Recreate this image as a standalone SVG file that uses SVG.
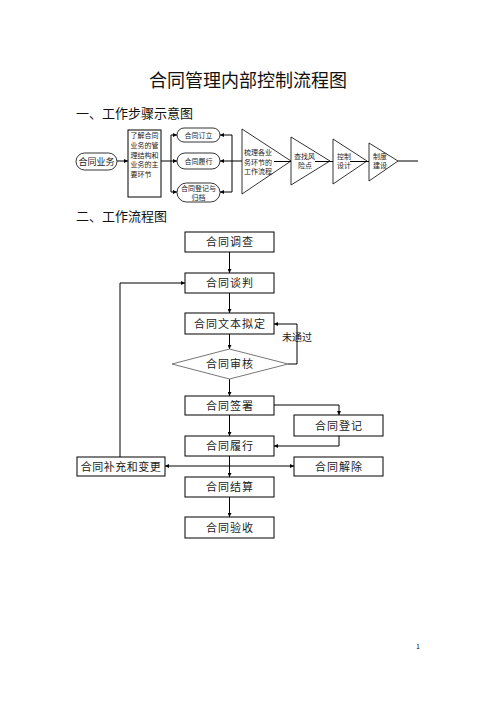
<svg xmlns="http://www.w3.org/2000/svg" width="496" height="702" viewBox="0 0 496 702">
<defs>
<marker id="ah" viewBox="0 0 10 10" refX="10" refY="5" markerWidth="4" markerHeight="4" orient="auto" markerUnits="userSpaceOnUse">
<path d="M0,0 L10,5 L0,10 z" fill="#000"/>
</marker>
</defs>
<style>
text{font-family:"Noto Sans CJK SC","Noto Sans",sans-serif;fill:#222}
.box{fill:#fff;stroke:#000;stroke-width:1}
.dia{fill:#fff;stroke:#777;stroke-width:1}
.pill{fill:#fff;stroke:#000;stroke-width:0.8}
.tri{fill:#fff;stroke:#000;stroke-width:0.8}
.ln{fill:none;stroke:#000;stroke-width:1}
.arr{fill:none;stroke:#000;stroke-width:1;marker-end:url(#ah)}
.lbl{font-size:11px;text-anchor:middle;letter-spacing:1px}
.sm{font-size:7px}
.smc{font-size:7px;text-anchor:middle}
</style>
<rect width="496" height="702" fill="#fff"/>
<text x="248" y="87" font-size="18" text-anchor="middle" style="fill:#111">合同管理内部控制流程图</text>
<text x="76" y="118" font-size="13" style="fill:#111">一、工作步骤示意图</text>
<text x="76" y="221" font-size="13" style="fill:#111">二、工作流程图</text>
<text x="418" y="649" font-size="7" text-anchor="middle" style="fill:#111">1</text>

<g id="connectors">
<line class="arr" x1="117" y1="161" x2="128" y2="161"/>
<line class="ln" x1="161" y1="161" x2="171" y2="161"/>
<line class="ln" x1="171" y1="135" x2="171" y2="192"/>
<line class="arr" x1="171" y1="135" x2="177" y2="135"/>
<line class="arr" x1="171" y1="161" x2="177" y2="161"/>
<line class="arr" x1="171" y1="192" x2="177" y2="192"/>
<line class="ln" x1="232" y1="135" x2="232" y2="192"/>
<line class="arr" x1="232" y1="135" x2="220" y2="135"/>
<line class="arr" x1="232" y1="161" x2="220" y2="161"/>
<line class="arr" x1="232" y1="192" x2="220" y2="192"/>
<line class="ln" x1="232" y1="161" x2="242" y2="161"/>
<line class="ln" x1="398" y1="161" x2="418" y2="161"/>

<line class="arr" x1="229.5" y1="252" x2="229.5" y2="273"/>
<line class="arr" x1="229.5" y1="293" x2="229.5" y2="313"/>
<line class="arr" x1="229.5" y1="334" x2="229.5" y2="349"/>
<line class="arr" x1="229.5" y1="379" x2="229.5" y2="396"/>
<line class="arr" x1="229.5" y1="415" x2="229.5" y2="436"/>
<line class="arr" x1="229.5" y1="456" x2="229.5" y2="477"/>
<line class="arr" x1="229.5" y1="497" x2="229.5" y2="517"/>
<polyline class="arr" points="288,364 297,364 297,324 274,324"/>
<polyline class="arr" points="274,405 339,405 339,415"/>
<polyline class="arr" points="339,436 339,446 274,446"/>
<line class="arr" x1="229.5" y1="466" x2="165" y2="466"/>
<line class="arr" x1="229.5" y1="466" x2="294" y2="466"/>
<polyline class="arr" points="120,457 120,283 185,283"/>
<text x="297" y="341" font-size="10" text-anchor="middle">未通过</text>
</g>

<g id="n-yewu"><rect class="pill" x="76" y="153" width="41" height="17" rx="8.5"/><text x="96.5" y="164.5" font-size="9" text-anchor="middle">合同业务</text></g>
<g id="n-liaojie"><rect class="box" x="128" y="130" width="33" height="67"/>
<text class="sm" x="130.5" y="138">了解合同</text><text class="sm" x="130.5" y="148">业务的管</text><text class="sm" x="130.5" y="157.5">理结构和</text><text class="sm" x="130.5" y="167">业务的主</text><text class="sm" x="130.5" y="176.5">要环节</text></g>
<g id="n-dingli"><rect class="pill" x="177" y="128" width="43" height="14" rx="7"/><text class="smc" x="198.5" y="137.5">合同订立</text></g>
<g id="n-lvxing1"><rect class="pill" x="177" y="153" width="43" height="16" rx="8"/><text class="smc" x="198.5" y="163.5">合同履行</text></g>
<g id="n-dengji1"><rect class="pill" x="177" y="183" width="43" height="19" rx="9.5"/><text class="smc" x="198.5" y="190.5">合同登记与</text><text class="smc" x="198.5" y="199.5">归档</text></g>

<g id="n-tri1"><polygon class="tri" points="242,129 242,194 291,161"/>
<line class="ln" x1="274" y1="161.5" x2="291" y2="161.5"/>
<text class="sm" x="244" y="154.5">梳理各业</text><text class="sm" x="244" y="164.5">务环节的</text><text class="sm" x="244" y="174">工作流程</text></g>
<g id="n-tri2"><polygon class="tri" points="291,137 291,185 330,161"/>
<line class="ln" x1="315" y1="161.5" x2="333" y2="161.5"/>
<text class="sm" x="294" y="158.5">查找风</text><text class="sm" x="298" y="168">险点</text></g>
<g id="n-tri3"><polygon class="tri" points="333,139 333,184 367,161"/>
<line class="ln" x1="350" y1="161.5" x2="369" y2="161.5"/>
<text class="sm" x="337" y="158.5">控制</text><text class="sm" x="337" y="168">设计</text></g>
<g id="n-tri4"><polygon class="tri" points="369,143 369,181 398,161"/>
<text class="sm" x="373" y="158.5">制度</text><text class="sm" x="373" y="168">建设</text></g>

<g id="n-diaocha"><rect class="box" x="185" y="232" width="89" height="20"/><text class="lbl" x="230" y="246">合同调查</text></g>
<g id="n-tanpan"><rect class="box" x="185" y="273" width="89" height="20"/><text class="lbl" x="230" y="287">合同谈判</text></g>
<g id="n-niding"><rect class="box" x="185" y="313" width="89" height="21"/><text class="lbl" x="230" y="327.5">合同文本拟定</text></g>
<g id="n-shenhe"><polygon class="dia" points="172,364 229.5,349 288,364 229.5,379"/><text class="lbl" x="230" y="368">合同审核</text></g>
<g id="n-qianshu"><rect class="box" x="185" y="396" width="89" height="19"/><text class="lbl" x="230" y="409.5">合同签署</text></g>
<g id="n-dengji"><rect class="box" x="294" y="415" width="89" height="21"/><text class="lbl" x="339" y="429.5">合同登记</text></g>
<g id="n-lvxing"><rect class="box" x="185" y="436" width="89" height="20"/><text class="lbl" x="230" y="450">合同履行</text></g>
<g id="n-buchong"><rect class="box" x="77" y="457" width="88" height="19"/><text class="lbl" x="121" y="470.5" style="letter-spacing:0.5px">合同补充和变更</text></g>
<g id="n-jiechu"><rect class="box" x="294" y="457" width="89" height="19"/><text class="lbl" x="339" y="470.5">合同解除</text></g>
<g id="n-jiesuan"><rect class="box" x="185" y="477" width="89" height="20"/><text class="lbl" x="230" y="491">合同结算</text></g>
<g id="n-yanshou"><rect class="box" x="185" y="517" width="89" height="21"/><text class="lbl" x="230" y="531.5">合同验收</text></g>
</svg>
